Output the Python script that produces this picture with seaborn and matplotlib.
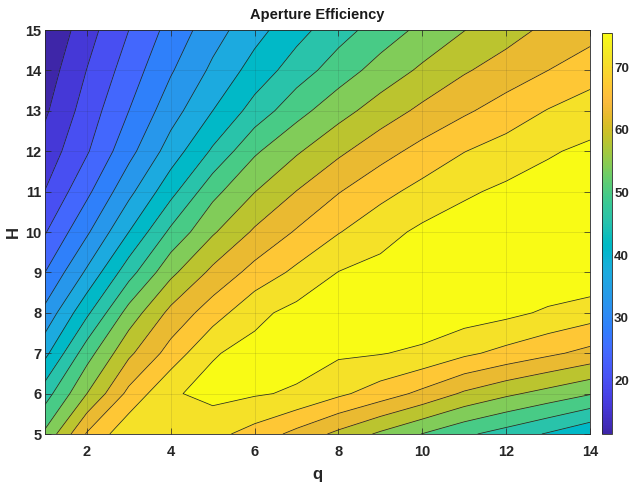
import numpy as np
import matplotlib
matplotlib.use("Agg")
import matplotlib.pyplot as plt
import matplotlib.colors as mcolors
import matplotlib.cm as mcm
import seaborn as sns

# ---------------- data ----------------
q_values = [1, 2, 3, 4, 5, 6, 7, 8, 9, 10, 11, 12, 13, 14]
H_values = [5, 6, 7, 8, 9, 10, 11, 12, 13, 14, 15]

eff_H5  = [52.2, 63.8, 70.4, 70.8, 68.6, 65.9, 62.2, 58.4, 54.7, 51.3, 48.2, 45.7, 43.0, 40.0]
eff_H6  = [45.6, 55.4, 64.5, 70.9, 72.6, 71.8, 70.9, 68.2, 65.5, 62.4, 58.8, 56.2, 54.0, 51.7]
eff_H7  = [38.3, 49.7, 58.6, 65.0, 71.1, 72.6, 73.0, 72.0, 71.6, 70.6, 68.2, 66.2, 64.2, 62.2]
eff_H8  = [32.5, 42.6, 53.0, 60.5, 65.5, 70.4, 72.6, 73.0, 73.8, 74.2, 73.4, 72.4, 70.8, 69.3]
eff_H9  = [27.4, 36.1, 45.8, 54.4, 60.4, 64.8, 68.3, 71.5, 72.6, 73.8, 74.6, 75.5, 74.6, 74.6]
eff_H10 = [23.1, 30.8, 39.4, 48.3, 54.9, 60.0, 63.8, 67.2, 70.0, 72.2, 73.4, 74.2, 74.6, 74.6]
eff_H11 = [19.5, 26.5, 34.3, 42.1, 50.2, 55.3, 59.5, 63.2, 66.2, 68.7, 70.8, 72.2, 73.0, 73.8]
eff_H12 = [17.0, 23.0, 30.1, 37.2, 44.0, 50.8, 54.9, 58.6, 61.9, 64.7, 67.3, 69.1, 71.0, 72.2]
eff_H13 = [14.8, 21.2, 27.4, 33.7, 39.4, 45.0, 50.0, 53.9, 57.3, 60.3, 62.8, 65.2, 67.6, 69.3]
eff_H14 = [13.2, 19.5, 25.3, 31.0, 36.2, 41.0, 45.4, 49.4, 53.0, 56.1, 59.0, 61.2, 63.4, 65.7]
eff_H15 = [11.4, 17.8, 23.4, 28.8, 33.7, 38.0, 42.0, 45.8, 49.2, 52.4, 55.3, 57.8, 60.3, 61.8]

contour_levels = [15.4, 19.4, 23.4, 27.4, 31.4, 35.4, 39.4, 43.4,
                  47.4, 51.4, 55.4, 59.4, 63.4, 67.4, 71.4]
x_ticks = [2, 4, 6, 8, 10, 12, 14]
y_ticks = [5, 6, 7, 8, 9, 10, 11, 12, 13, 14, 15]
cbar_ticks = [20, 30, 40, 50, 60, 70]

# MATLAB parula anchor colours
parula = [
    (0.2422, 0.1504, 0.6603), (0.2504, 0.1650, 0.7076), (0.2578, 0.1818, 0.7511),
    (0.2647, 0.1978, 0.7952), (0.2706, 0.2147, 0.8364), (0.2751, 0.2342, 0.8710),
    (0.2783, 0.2559, 0.8991), (0.2803, 0.2782, 0.9221), (0.2813, 0.3006, 0.9414),
    (0.2810, 0.3228, 0.9579), (0.2795, 0.3447, 0.9717), (0.2760, 0.3667, 0.9829),
    (0.2699, 0.3892, 0.9906), (0.2602, 0.4123, 0.9952), (0.2440, 0.4358, 0.9988),
    (0.2206, 0.4603, 0.9973), (0.1963, 0.4847, 0.9892), (0.1834, 0.5074, 0.9798),
    (0.1786, 0.5289, 0.9682), (0.1764, 0.5499, 0.9520), (0.1687, 0.5703, 0.9359),
    (0.1540, 0.5902, 0.9218), (0.1460, 0.6091, 0.9079), (0.1380, 0.6276, 0.8973),
    (0.1248, 0.6459, 0.8883), (0.1113, 0.6635, 0.8763), (0.0952, 0.6798, 0.8598),
    (0.0689, 0.6948, 0.8394), (0.0297, 0.7082, 0.8163), (0.0036, 0.7203, 0.7917),
    (0.0067, 0.7312, 0.7660), (0.0433, 0.7411, 0.7394), (0.0964, 0.7500, 0.7120),
    (0.1408, 0.7584, 0.6842), (0.1717, 0.7670, 0.6554), (0.1938, 0.7758, 0.6251),
    (0.2161, 0.7843, 0.5923), (0.2470, 0.7918, 0.5567), (0.2906, 0.7973, 0.5188),
    (0.3406, 0.8008, 0.4789), (0.3909, 0.8029, 0.4354), (0.4456, 0.8024, 0.3909),
    (0.5044, 0.7993, 0.3480), (0.5616, 0.7942, 0.3045), (0.6174, 0.7876, 0.2612),
    (0.6720, 0.7793, 0.2227), (0.7242, 0.7698, 0.1910), (0.7738, 0.7598, 0.1646),
    (0.8203, 0.7498, 0.1535), (0.8634, 0.7406, 0.1596), (0.9035, 0.7330, 0.1774),
    (0.9393, 0.7288, 0.2100), (0.9728, 0.7298, 0.2394), (0.9956, 0.7434, 0.2371),
    (0.9970, 0.7659, 0.2199), (0.9952, 0.7893, 0.2028), (0.9892, 0.8136, 0.1885),
    (0.9786, 0.8386, 0.1766), (0.9676, 0.8639, 0.1643), (0.9610, 0.8890, 0.1537),
    (0.9597, 0.9135, 0.1423), (0.9628, 0.9373, 0.1265), (0.9691, 0.9606, 0.1064),
    (0.9769, 0.9839, 0.0805)]

# ---------------- style ----------------
sns.set_theme(style="ticks")
plt.rcParams["font.family"] = ["Liberation Sans Narrow", "Liberation Sans", "DejaVu Sans"]
plt.rcParams["font.weight"] = "bold"
plt.rcParams["axes.labelweight"] = "bold"
plt.rcParams["axes.titleweight"] = "bold"

cmap = sns.blend_palette(parula, as_cmap=True)
n_bands = len(contour_levels) + 1
band_colors = [cmap(i / (n_bands - 1)) for i in range(n_bands)]

Z = np.array([eff_H5, eff_H6, eff_H7, eff_H8, eff_H9, eff_H10,
              eff_H11, eff_H12, eff_H13, eff_H14, eff_H15])
Q, HH = np.meshgrid(q_values, H_values)
zmin, zmax = Z.min(), Z.max()

fig = plt.figure(figsize=(6.29, 4.91), dpi=100)
ax = fig.add_axes([45 / 629, (491 - 434) / 491, 545 / 629, 404 / 491])

bounds = [zmin - 0.01] + contour_levels + [zmax + 0.01]
ax.contourf(Q, HH, Z, levels=bounds, colors=band_colors, zorder=1)
ax.contour(Q, HH, Z, levels=contour_levels, colors="#262626", linewidths=0.55, zorder=2)

ax.set_xlim(1, 14)
ax.set_ylim(5, 15)
ax.set_xticks(x_ticks)
ax.set_yticks(y_ticks)
ax.grid(True, color="#262626", alpha=0.13, linewidth=0.6, zorder=3)
ax.set_axisbelow(False)
ax.tick_params(direction="in", top=True, right=True, length=4, width=0.5,
               color="#262626", labelsize=10.5, labelcolor="#262626")
ax.tick_params(axis="x", pad=8)
ax.tick_params(axis="y", pad=2.5)
for lab in ax.get_xticklabels() + ax.get_yticklabels():
    lab.set_fontweight("bold")
for s in ax.spines.values():
    s.set_linewidth(0.6)
    s.set_color("#262626")

ax.set_xlabel("q", fontsize=12, fontweight="bold", color="#262626", labelpad=6)
ax.set_ylabel("H", fontsize=12, fontweight="bold", color="#262626", labelpad=3)
ax.set_title("Aperture Efficiency", fontsize=10.5, fontweight="bold", color="#1a1a1a", pad=8)

cax = fig.add_axes([602 / 629, (491 - 434) / 491, 10 / 629, 401 / 491])
sm = mcm.ScalarMappable(norm=mcolors.Normalize(vmin=zmin, vmax=zmax), cmap=cmap)
cb = fig.colorbar(sm, cax=cax, ticks=cbar_ticks)
cb.outline.set_linewidth(0.6)
cb.outline.set_edgecolor("#262626")
cax.tick_params(direction="in", length=3, width=0.5, labelsize=9.5,
                labelcolor="#262626", color="#262626", pad=1.5)
for lab in cax.get_yticklabels():
    lab.set_fontweight("bold")

fig.savefig("out.png", dpi=100)
